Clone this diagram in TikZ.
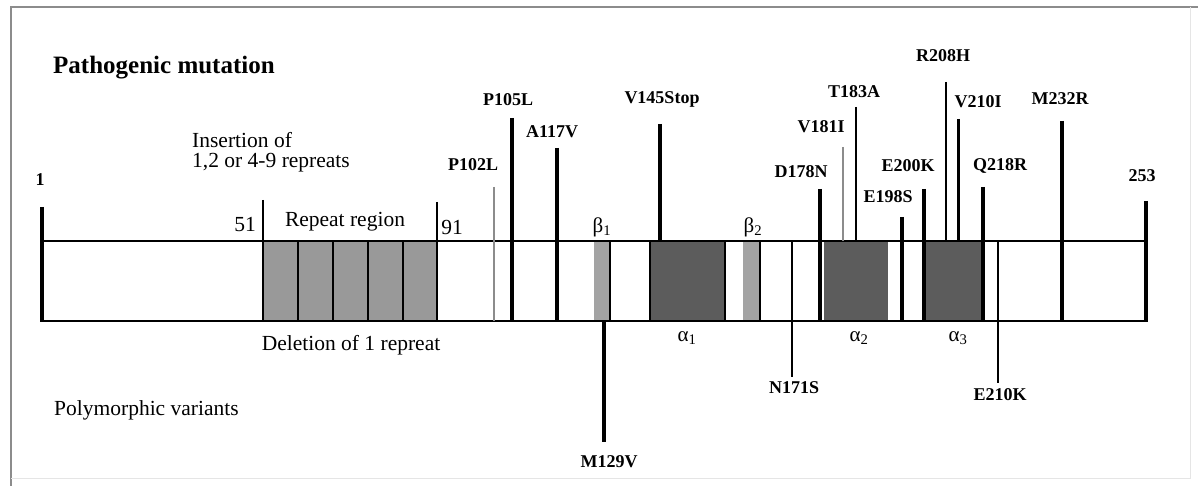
\documentclass[tikz,border=0pt]{standalone}
\usepackage{fontspec}
\setmainfont{Liberation Serif}
\usepackage{tikz}
\usetikzlibrary{positioning}
\definecolor{repeatgray}{gray}{0.60}
\definecolor{helixgray}{gray}{0.36}
\definecolor{strandgray}{gray}{0.64}
\definecolor{framegray}{gray}{0.55}

\begin{document}
\begin{tikzpicture}[
    x=1pt, y=-1pt,
    mut/.style={font=\fontsize{18}{20}\selectfont\bfseries, inner sep=0pt},
    txt/.style={font=\fontsize{21.5}{24}\selectfont, inner sep=0pt},
    sse/.style={font=\fontsize{21}{23}\selectfont, inner sep=0pt},
    heavy/.style={line width=4pt},
    medium/.style={line width=3pt},
    light/.style={line width=1.5pt},
    greyline/.style={line width=2.5pt, black!45}
]
\useasboundingbox (0,0) rectangle (1198,486);

% Frame
\draw[framegray, line width=2pt] (11,486) -- (11,7) -- (1198,7);
\draw[black!10, line width=1pt] (1190,7) -- (1190,478) -- (11,478);

% Domains
\foreach \x in {263,298,333,368,403}
    \fill[repeatgray] (\x,241) rectangle ++(35,80);
\fill[strandgray] (594,241) rectangle (609,321);
\fill[strandgray] (743,241) rectangle (759,321);
\fill[helixgray] (650,241) rectangle (725,321);
\fill[helixgray] (824,241) rectangle (888,321);
\fill[helixgray] (926,241) rectangle (982,321);

% Protein bar
\draw[line width=2pt] (42,241) -- (1146,241);
\draw[line width=2.5pt] (42,321) -- (1146,321);
\draw[heavy] (42,207) -- (42,322);
\draw[heavy] (1146,201) -- (1146,322);
\draw[light] (263,200) -- (263,321);
\draw[light] (437,202) -- (437,321);
\foreach \x in {298,333,368,403}
    \draw[light] (\x,241) -- (\x,321);
\draw[line width=2pt] (610,241) -- (610,321);
\draw[line width=2pt] (650,241) -- (650,321);
\draw[line width=2pt] (725,241) -- (725,321);
\draw[line width=2pt] (760,241) -- (760,321);

% Pathogenic mutations
\draw[greyline] (494,187) -- (494,321);
\draw[heavy] (512,118) -- (512,321);
\draw[heavy] (557,148) -- (557,321);
\draw[line width=3.5pt] (660,124) -- (660,241);
\draw[line width=4.5pt] (820,189) -- (820,321);
\draw[line width=2pt, black!45] (843,147) -- (843,241);
\draw[light] (856,107) -- (856,241);
\draw[heavy] (902,217) -- (902,321);
\draw[heavy] (924,189) -- (924,321);
\draw[light] (946,82) -- (946,241);
\draw[medium] (958,119) -- (958,241);
\draw[line width=3.5pt] (983,187) -- (983,321);
\draw[heavy] (1062,121) -- (1062,321);

% Polymorphic variants
\draw[heavy] (604,321) -- (604,442);
\draw[light] (792,241) -- (792,377);
\draw[light] (998,241) -- (998,383);

% Labels
\node[font=\fontsize{25}{28}\selectfont\bfseries, inner sep=0pt, anchor=west] (title) at (53,68) {Pathogenic mutation};
\node[txt, anchor=west] (ins1) at (192,140) {Insertion of};
\node[txt, anchor=west] (ins2) at (192,163) {1,2 or 4-9 repreats};
\node[txt] (del) at (351,345) {Deletion of 1 repreat};
\node[txt, anchor=west] (poly) at (54,410) {Polymorphic variants};
\node[mut] (start) at (40,180) {1};
\node[mut] (end) at (1142,176) {253};
\node[txt] (r51) at (245,225) {51};
\node[txt] (rregion) at (345,222) {Repeat region};
\node[txt] (r91) at (452,227) {91};
\node[sse] (b1) at (602,227) {β\textsubscript{1}};
\node[sse] (b2) at (753,227) {β\textsubscript{2}};
\node[sse] (a1) at (687,338) {α\textsubscript{1}};
\node[sse] (a2) at (859,338) {α\textsubscript{2}};
\node[sse] (a3) at (958,338) {α\textsubscript{3}};

\node[mut] (p102l) at (473,165) {P102L};
\node[mut] (p105l) at (508,100) {P105L};
\node[mut] (a117v) at (552,132) {A117V};
\node[mut] (v145stop) at (662,99) {V145Stop};
\node[mut] (d178n) at (801,172) {D178N};
\node[mut] (v181i) at (821,127) {V181I};
\node[mut] (t183a) at (854,92) {T183A};
\node[mut] (e198s) at (888,197) {E198S};
\node[mut] (e200k) at (908,166) {E200K};
\node[mut] (r208h) at (943,56) {R208H};
\node[mut] (v210i) at (978,102) {V210I};
\node[mut] (q218r) at (1000,166) {Q218R};
\node[mut] (m232r) at (1060,99) {M232R};
\node[mut] (m129v) at (609,462) {M129V};
\node[mut] (n171s) at (794,388) {N171S};
\node[mut] (e210k) at (1000,395) {E210K};

\end{tikzpicture}
\end{document}
